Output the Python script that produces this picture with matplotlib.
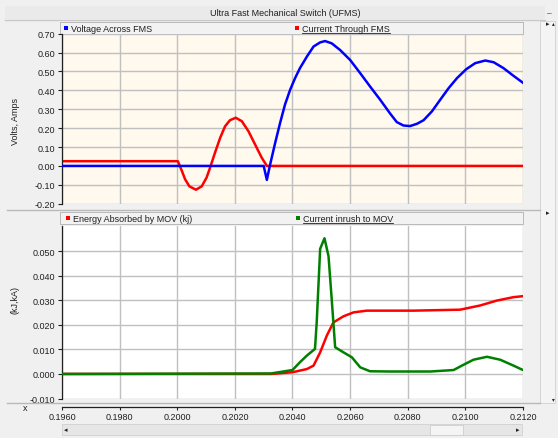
import matplotlib
matplotlib.use('Agg')
import matplotlib.pyplot as plt
from matplotlib.patches import Rectangle
from matplotlib.lines import Line2D

plt.rcParams['font.family'] = ['Liberation Sans', 'DejaVu Sans']

# ---------------- data ----------------
volt_t = [0.1960, 0.2030, 0.20311, 0.20322, 0.20340, 0.20357, 0.20374, 0.20392, 0.20409,
          0.20426, 0.20450, 0.20473, 0.20496, 0.20513, 0.20536, 0.20565, 0.20600, 0.20635,
          0.20669, 0.20704, 0.20739, 0.20762, 0.20785, 0.20808, 0.20832, 0.20855, 0.20884,
          0.20913, 0.20942, 0.20971, 0.21003, 0.21034, 0.21069, 0.21098, 0.21132, 0.21167,
          0.21201]
volt_v = [0.0, 0.0, -0.074, 0.005, 0.123, 0.228, 0.325, 0.404, 0.465,
          0.518, 0.579, 0.632, 0.654, 0.661, 0.649, 0.614, 0.561, 0.491,
          0.421, 0.351, 0.277, 0.232, 0.214, 0.211, 0.223, 0.242, 0.289,
          0.351, 0.412, 0.465, 0.512, 0.544, 0.558, 0.549, 0.518, 0.477,
          0.439]

curr_t = [0.1960, 0.20002, 0.20016, 0.20027, 0.20042, 0.20065, 0.20085, 0.20102, 0.20114,
          0.20131, 0.20149, 0.20166, 0.20183, 0.20203, 0.20224, 0.20247, 0.20270, 0.20293,
          0.20311, 0.2120]
curr_v = [0.025, 0.025, -0.026, -0.070, -0.108, -0.126, -0.108, -0.061, -0.009,
          0.070, 0.149, 0.210, 0.242, 0.255, 0.237, 0.184, 0.114, 0.044,
          0.0, 0.0]

energy_t = [0.1960, 0.20328, 0.2040, 0.2045, 0.20473, 0.20496, 0.20519, 0.20542, 0.20577,
            0.20612, 0.20658, 0.2082, 0.20982, 0.21051, 0.21109, 0.21167, 0.2120]
energy_v = [0.0, 0.0, 0.0007, 0.0020, 0.0034, 0.0088, 0.0156, 0.0210, 0.0235,
            0.0251, 0.0258, 0.0258, 0.0262, 0.0279, 0.0299, 0.0313, 0.0317]

inrush_t = [0.1960, 0.20325, 0.2040, 0.20426, 0.2045, 0.20478, 0.20484, 0.20496, 0.20511,
            0.20525, 0.20536, 0.20548, 0.20577, 0.20606, 0.20635, 0.20669, 0.20739, 0.20878,
            0.20959, 0.20988, 0.21028, 0.21075, 0.21121, 0.21167, 0.2120]
inrush_v = [0.0, 0.0002, 0.0016, 0.0048, 0.0075, 0.0102, 0.0210, 0.0510, 0.0553,
            0.0480, 0.0306, 0.0109, 0.0088, 0.0068, 0.0027, 0.0011, 0.0010, 0.0010,
            0.0016, 0.0034, 0.0058, 0.0070, 0.0058, 0.0034, 0.0016]

x_ticks = [0.1960, 0.1980, 0.2000, 0.2020, 0.2040, 0.2060, 0.2080, 0.2100, 0.2120]
top_yticks = [0.70, 0.60, 0.50, 0.40, 0.30, 0.20, 0.10, 0.00, -0.10, -0.20]
bot_yticks = [0.050, 0.040, 0.030, 0.020, 0.010, 0.000, -0.010]

title = "Ultra Fast Mechanical Switch (UFMS)"
top_labels = ["Voltage Across FMS", "Current Through FMS"]
bot_labels = ["Energy Absorbed by MOV (kj)", "Current inrush to MOV"]

# ---------------- layout helpers ----------------
W, H = 558, 439
fig = plt.figure(figsize=(W / 100, H / 100), dpi=100, facecolor='#F0F0F0')

def fx(px):
    return px / W

def fy(py):
    return 1 - py / H

def rect(x0, y0, x1, y1, fc, ec='none', lw=0.8, z=0):
    fig.add_artist(Rectangle((fx(x0), fy(y1)), fx(x1) - fx(x0), fy(y0) - fy(y1),
                             transform=fig.transFigure, facecolor=fc, edgecolor=ec,
                             linewidth=lw, zorder=z))

def hline(x0, x1, y, color, lw=1.0):
    fig.add_artist(Line2D([fx(x0), fx(x1)], [fy(y), fy(y)], transform=fig.transFigure,
                          color=color, linewidth=lw))

FS = 6.5
GRID = '#C0C0C0'
LW = 1.8
L, R = 62, 523

# title band
rect(5, 7, 545, 20, '#EAEAEA')
hline(5, 545, 20.5, '#C8C8C8')
fig.text(fx(285), fy(13.5), title, ha='center', va='center', fontsize=FS, color='#202020')
fig.text(fx(549), fy(14), '–', ha='center', va='center', fontsize=6, color='#202020')

# ---------------- top axes ----------------
ax1 = fig.add_axes([fx(L), fy(204.7), fx(R) - fx(L), fy(34.7) - fy(204.7)])
ax1.set_facecolor('#FFF9EE')
ax1.plot(volt_t, volt_v, color='#0000FF', lw=LW, zorder=3)
ax1.plot(curr_t, curr_v, color='#FF0000', lw=LW, zorder=2)
ax1.set_xlim(0.1960, 0.2120)
ax1.set_ylim(-0.20, 0.70)
ax1.set_xticks(x_ticks)
ax1.set_yticks(top_yticks)
ax1.set_yticklabels([f"{v:.2f}" for v in top_yticks])
ax1.tick_params(axis='x', length=0, labelbottom=False)
ax1.tick_params(axis='y', length=3, width=0.8, direction='out', labelsize=FS, pad=2,
                color='#202020', labelcolor='#202020')
ax1.grid(True, color=GRID, lw=1.0)
for s in ['top', 'right', 'bottom']:
    ax1.spines[s].set_visible(False)
ax1.spines['left'].set_color('#202020')
ax1.spines['left'].set_linewidth(0.9)
fig.text(fx(15), fy(122), "Volts, Amps", rotation=90, ha='center', va='center',
         fontsize=FS, color='#202020')

# top legend bar
rect(60, 22.5, 523, 35, '#F2F2F2', ec='#B0B0B0', lw=0.6)
rect(64, 26.5, 68, 30.5, '#0000FF')
fig.text(fx(71), fy(29), top_labels[0], ha='left', va='center', fontsize=FS, color='#202020')
rect(295, 26.5, 299, 30.5, '#FF0000')
t2 = fig.text(fx(302), fy(29), top_labels[1], ha='left', va='center', fontsize=FS, color='#202020')

# separator between plots
hline(7, 540, 210.5, '#B8B8B8')

# ---------------- bottom axes ----------------
ax2 = fig.add_axes([fx(L), fy(399.5), fx(R) - fx(L), fy(226.5) - fy(399.5)])
ax2.set_facecolor('white')
ax2.plot(energy_t, energy_v, color='#FF0000', lw=LW, zorder=2)
ax2.plot(inrush_t, inrush_v, color='#008000', lw=LW, zorder=3)
ax2.set_xlim(0.1960, 0.2120)
ax2.set_ylim(-0.010, 0.0605)
ax2.set_xticks(x_ticks)
ax2.set_xticklabels([f"{v:.4f}" for v in x_ticks])
ax2.set_yticks(bot_yticks)
ax2.set_yticklabels([f"{v:.3f}" for v in bot_yticks])
ax2.tick_params(axis='y', length=3, width=0.8, direction='out', labelsize=FS, pad=2,
                color='#202020', labelcolor='#202020')
ax2.tick_params(axis='x', length=2.5, width=0.8, direction='out', labelsize=FS, pad=1,
                color='#202020', labelcolor='#202020')
ax2.grid(True, color=GRID, lw=1.0)
for s in ['top', 'right']:
    ax2.spines[s].set_visible(False)
ax2.spines['left'].set_color('#202020')
ax2.spines['left'].set_linewidth(0.9)
ax2.spines['bottom'].set_position(('outward', 6))
ax2.spines['bottom'].set_color('#202020')
ax2.spines['bottom'].set_linewidth(0.9)
fig.text(fx(15), fy(300), "(kJ,kA)", rotation=90, ha='center', va='center',
         fontsize=FS, color='#202020')
fig.text(fx(25), fy(409), "x", ha='center', va='center', fontsize=FS, color='#202020')

# bottom legend bar
rect(60, 213, 523, 225, '#F2F2F2', ec='#B0B0B0', lw=0.6)
rect(66, 217, 70, 221, '#FF0000')
fig.text(fx(73), fy(219), bot_labels[0], ha='left', va='center', fontsize=FS, color='#202020')
rect(296, 217, 300, 221, '#008000')
t4 = fig.text(fx(303), fy(219), bot_labels[1], ha='left', va='center', fontsize=FS, color='#202020')

# separator above x-axis
hline(7, 540, 403.5, '#B8B8B8')

# right side panel + scrollbar
rect(540, 22, 555, 404, '#F4F4F4', ec='#D0D0D0', lw=0.6)
fig.text(fx(547.5), fy(25), '▸', ha='center', va='center', fontsize=5, color='#202020')
fig.text(fx(547.5), fy(214), '▸', ha='center', va='center', fontsize=5, color='#202020')
fig.text(fx(553), fy(24), '▴', ha='center', va='center', fontsize=4, color='#202020')
fig.text(fx(553), fy(400), '▾', ha='center', va='center', fontsize=4, color='#202020')

# horizontal scrollbar
rect(62, 425, 522, 436, '#E6E6E6', ec='#D0D0D0', lw=0.6)
rect(430, 425.5, 463, 435.5, '#F4F4F4', ec='#C8C8C8', lw=0.5)
fig.text(fx(66), fy(430.5), '◂', ha='center', va='center', fontsize=5, color='#202020')
fig.text(fx(518), fy(430.5), '▸', ha='center', va='center', fontsize=5, color='#202020')

# underlines for the second legend entries
fig.canvas.draw()
rend = fig.canvas.get_renderer()
for t in (t2, t4):
    bb = t.get_window_extent(rend)
    yline = bb.y0 - 0.5
    fig.add_artist(Line2D([bb.x0 / W, bb.x1 / W], [yline / H, yline / H],
                          transform=fig.transFigure, color='#202020', linewidth=0.6))

fig.savefig('out.png', dpi=100, facecolor=fig.get_facecolor())
